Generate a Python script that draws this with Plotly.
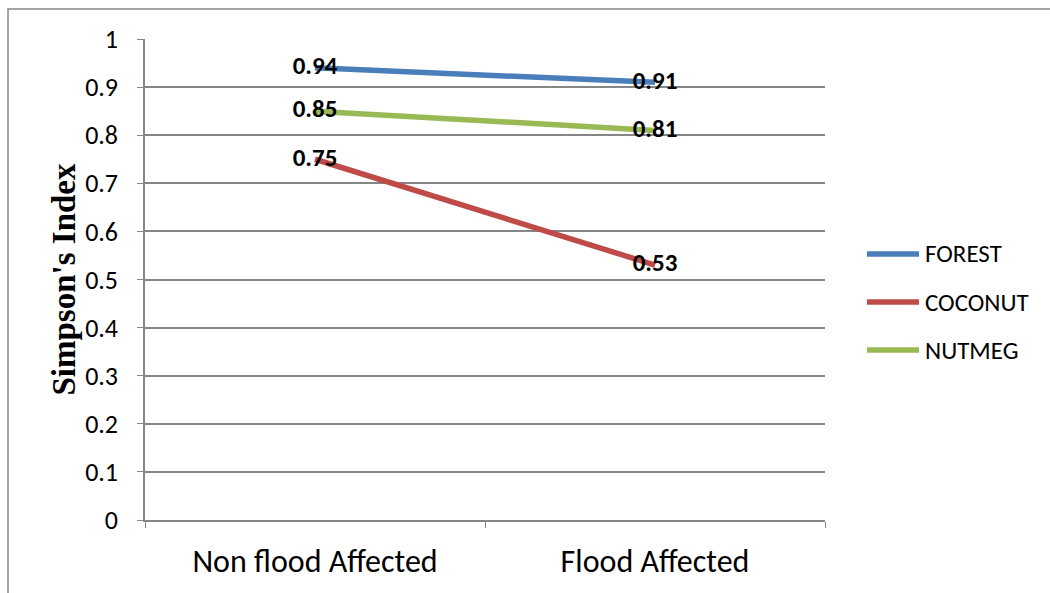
import plotly.graph_objects as go

# Simpson's diversity index by site condition
categories = ["Non flood Affected", "Flood Affected"]
forest = [0.94, 0.91]
coconut = [0.75, 0.53]
nutmeg = [0.85, 0.81]
y_ticks = [0, 0.1, 0.2, 0.3, 0.4, 0.5, 0.6, 0.7, 0.8, 0.9, 1]
y_tick_text = ["0", "0.1", "0.2", "0.3", "0.4", "0.5", "0.6", "0.7", "0.8", "0.9", "1"]

series = [
    ("FOREST", forest, "#4A7EBB"),
    ("COCONUT", coconut, "#BE4B48"),
    ("NUTMEG", nutmeg, "#98B954"),
]

W, H = 1050, 593
L, R, T, B = 145, 225, 39, 73
pw, ph = W - L - R, H - T - B
FONT = "Carlito, Lato, sans-serif"
GRID = "#868686"


def px_to_paper_x(px):
    return (px - L) / pw


def px_to_paper_y(py):
    return (H - B - py) / ph


fig = go.Figure()
for name, vals, color in series:
    fig.add_trace(go.Scatter(
        x=categories, y=vals, name=name, mode="lines",
        line=dict(color=color, width=5.5), showlegend=False,
    ))
# data labels drawn above all lines
for name, vals, color in series:
    fig.add_trace(go.Scatter(
        x=categories, y=vals, mode="text", showlegend=False,
        text=[f"{v:.2f}" for v in vals], textposition="middle center",
        textfont=dict(family=FONT, size=25, color="#000000", weight="bold"),
        hoverinfo="skip",
    ))

# legend drawn at the right of the plot area
shapes = []
annotations = []
legend_rows = [254, 302, 350]
for (name, vals, color), ry in zip(series, legend_rows):
    shapes.append(dict(
        type="line", xref="paper", yref="paper",
        x0=px_to_paper_x(867), x1=px_to_paper_x(919),
        y0=px_to_paper_y(ry), y1=px_to_paper_y(ry),
        line=dict(color=color, width=5.5),
    ))
    annotations.append(dict(
        xref="paper", yref="paper", x=px_to_paper_x(923), y=px_to_paper_y(ry),
        xanchor="left", yanchor="middle", text=name, showarrow=False,
        font=dict(family=FONT, size=25, color="#000000"),
    ))

# outer chart border
shapes.append(dict(
    type="rect", xref="paper", yref="paper",
    x0=px_to_paper_x(8), x1=px_to_paper_x(1060),
    y0=px_to_paper_y(600), y1=px_to_paper_y(9),
    line=dict(color=GRID, width=1.5), layer="below",
))

fig.update_layout(
    width=W, height=H,
    margin=dict(l=L, r=R, t=T, b=B),
    paper_bgcolor="white", plot_bgcolor="white",
    font=dict(family=FONT, color="#000000"),
    showlegend=False,
    xaxis=dict(
        type="category", range=[-0.5, 1.5],
        showgrid=False, showline=True, linecolor=GRID, linewidth=1.5,
        ticks="outside", tickson="boundaries", ticklen=6, tickcolor=GRID,
        tickfont=dict(size=32), ticklabelstandoff=12,
    ),
    yaxis=dict(
        range=[0, 1], tickvals=y_ticks, ticktext=y_tick_text,
        showgrid=True, gridcolor=GRID, gridwidth=1.5,
        showline=True, linecolor=GRID, linewidth=1.5,
        ticks="outside", ticklen=6, tickcolor=GRID,
        tickfont=dict(size=26), ticklabelstandoff=14, zeroline=False,
        title=dict(text="Simpson's Index",
                   font=dict(family="Liberation Serif, Times New Roman, serif", size=33, weight="bold"),
                   standoff=0),
    ),
    shapes=shapes,
    annotations=annotations,
)

fig.write_html("out.html")
